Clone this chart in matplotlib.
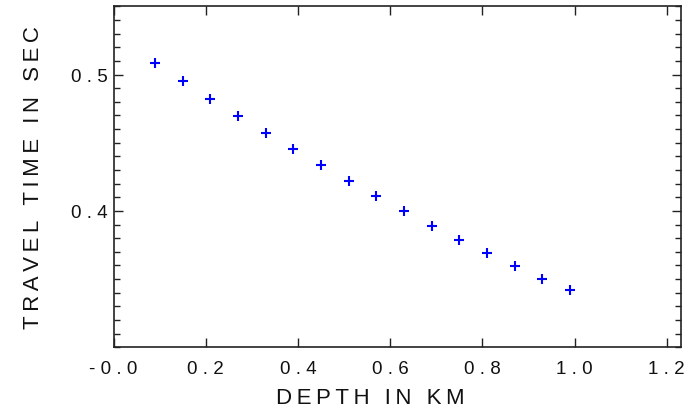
import matplotlib
matplotlib.use("Agg")
import matplotlib.pyplot as plt
from matplotlib.ticker import MultipleLocator, FixedLocator

depth = [0.09, 0.15, 0.21, 0.27, 0.33, 0.39, 0.45, 0.51,
         0.57, 0.63, 0.69, 0.75, 0.81, 0.87, 0.93, 0.99]
travel_time = [0.5086, 0.4954, 0.4821, 0.4696, 0.4571, 0.4451, 0.4334, 0.4221,
               0.4108, 0.3996, 0.3890, 0.3787, 0.3689, 0.3593, 0.3500, 0.3417]

x_ticks = [0.0, 0.2, 0.4, 0.6, 0.8, 1.0, 1.2]
x_tick_labels = ["-0.0", "0.2", "0.4", "0.6", "0.8", "1.0", "1.2"]
y_ticks = [0.4, 0.5]
y_tick_labels = ["0.4", "0.5"]


def spaced(s, gap="\u2009"):
    # old plotter style: wide letter spacing
    words = [gap.join(w) for w in s.split(" ")]
    return (gap + " " + gap).join(words)


plt.rcParams['font.family'] = ['Liberation Sans', 'DejaVu Sans']

fig = plt.figure(figsize=(6.93, 4.14), dpi=100)
ax = fig.add_axes([0.164, 0.159, 0.818, 0.823])

ax.plot(depth, travel_time, '+', color='blue', markersize=7.5, markeredgewidth=1.5)

ax.set_xlim(0.0, 1.23)
ax.set_ylim(0.30, 0.55)

ax.xaxis.set_major_locator(FixedLocator(x_ticks))
ax.set_xticklabels([spaced(t, " ") for t in x_tick_labels], fontsize=13.5)
ax.yaxis.set_major_locator(FixedLocator(y_ticks))
ax.set_yticklabels([spaced(t, " ") for t in y_tick_labels], fontsize=13.5)
ax.yaxis.set_minor_locator(MultipleLocator(0.01))

ax.tick_params(axis='both', which='both', direction='in', top=True, right=True,
               color='#222222', labelcolor='#111111')
ax.tick_params(axis='both', which='major', length=6.5, width=1)
ax.tick_params(axis='y', which='minor', length=4, width=1)
ax.tick_params(axis='x', which='major', pad=9)
ax.tick_params(axis='y', which='major', pad=4)

for sp in ax.spines.values():
    sp.set_linewidth(1.2)
    sp.set_color('#222222')

ax.set_xlabel(spaced("DEPTH IN KM"), fontsize=16, color='#111111')
ax.xaxis.set_label_coords(0.452, -0.118)
ax.set_ylabel(spaced("TRAVEL TIME IN SEC"), fontsize=16, color='#111111', labelpad=20)

fig.savefig("out.png", dpi=100)
